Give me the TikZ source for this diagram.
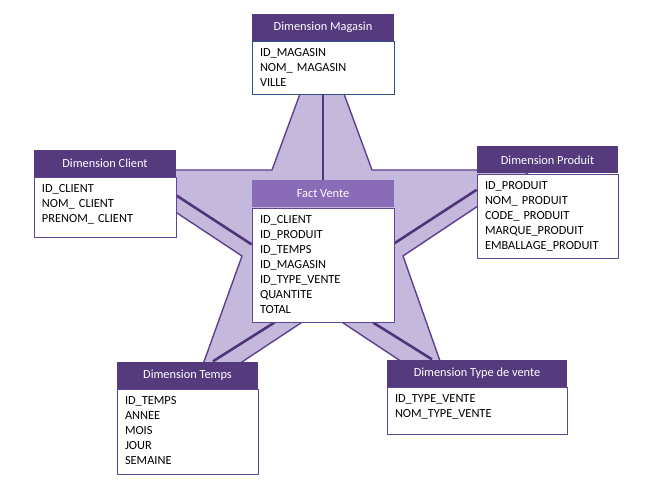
\documentclass[tikz,border=0pt]{standalone}
\usepackage{fontspec}
\setmainfont{Carlito}
\usetikzlibrary{positioning,calc,backgrounds}
\definecolor{dimhead}{RGB}{85,58,126}
\definecolor{facthead}{RGB}{138,107,184}
\definecolor{dimline}{RGB}{96,68,150}
\definecolor{magline}{RGB}{47,82,143}
\definecolor{starlilac}{RGB}{197,184,221}
\definecolor{starline}{RGB}{94,64,140}
\definecolor{linkcol}{RGB}{80,52,120}
\tikzset{
  head/.style={fill=dimhead,text=white,minimum height=27bp,inner sep=0pt,
    font=\fontsize{12.4}{14}\selectfont},
  fields/.style={draw=dimline,fill=white,align=left,anchor=north,line width=0.8pt,
    inner xsep=8bp,inner ysep=0pt,text height=15bp,font=\fontsize{12.4}{15.2}\selectfont},
  starfill/.style={fill=starlilac,draw=starline,line width=1.4pt,line join=miter},
  link/.style={draw=linkcol,line width=2.6pt},
}
\begin{document}
\begin{tikzpicture}[x=1bp,y=-1bp]
  \useasboundingbox (0,0) rectangle (652,502);
  % fact table
  \node[head,fill=facthead,minimum width=142bp] (factH) at (323,194) {Fact Vente};
  \node[fields,text width=126bp,text depth=99bp,below=0pt of factH] (fact)
    {ID\_CLIENT\\ID\_PRODUIT\\ID\_TEMPS\\ID\_MAGASIN\\ID\_TYPE\_VENTE\\QUANTITE\\TOTAL};
  % dimensions
  \node[head,minimum width=142bp] (magH) at (323,27.5) {Dimension Magasin};
  \node[fields,draw=magline,text width=126bp,text depth=38bp,below=0pt of magH] (mag)
    {ID\_MAGASIN\\NOM\_ MAGASIN\\VILLE};
  \node[head,minimum width=142bp] (clientH) at (105,163.5) {Dimension Client};
  \node[fields,text width=126bp,text depth=45bp,below=0pt of clientH] (client)
    {ID\_CLIENT\\NOM\_ CLIENT\\PRENOM\_ CLIENT};
  \node[head,minimum width=141bp] (produitH) at (547.5,160) {Dimension Produit};
  \node[fields,text width=125bp,text depth=69bp,below=0pt of produitH] (produit)
    {ID\_PRODUIT\\NOM\_ PRODUIT\\CODE\_ PRODUIT\\MARQUE\_PRODUIT\\EMBALLAGE\_PRODUIT};
  \node[head,minimum width=141bp] (tempsH) at (187.5,375) {Dimension Temps};
  \node[fields,text width=125bp,text depth=70bp,below=0pt of tempsH] (temps)
    {ID\_TEMPS\\ANNEE\\MOIS\\JOUR\\SEMAINE};
  \node[head,minimum width=180bp] (typeH) at (477,373) {Dimension Type de vente};
  \node[fields,text width=164bp,text depth=32bp,below=0pt of typeH] (type)
    {ID\_TYPE\_VENTE\\NOM\_TYPE\_VENTE};
  \begin{scope}[on background layer]
    % star behind the tables
    \filldraw[starfill] (322,34) -- (372,170) -- (532,170) -- (403,256) -- (452,395)
      -- (322,309) -- (192,395) -- (242,256) -- (112,170) -- (272,170) -- cycle;
    \draw[link] (mag.south) -- (factH.north);
    \draw[link] ($(client.north east)!0.3!(client.south east)$)
      -- ($(fact.north west)!0.32!(fact.south west)$);
    \draw[link] ($(fact.north east)!0.31!(fact.south east)$)
      -- ($(produit.north west)!0.19!(produit.south west)$);
    \draw[link] ($(fact.south west)!0.16!(fact.south east)$)
      -- ($(tempsH.north west)!0.68!(tempsH.north east)$);
    \draw[link] ($(fact.south west)!0.85!(fact.south east)$)
      -- ($(typeH.north west)!0.25!(typeH.north east)$);
  \end{scope}
\end{tikzpicture}
\end{document}
